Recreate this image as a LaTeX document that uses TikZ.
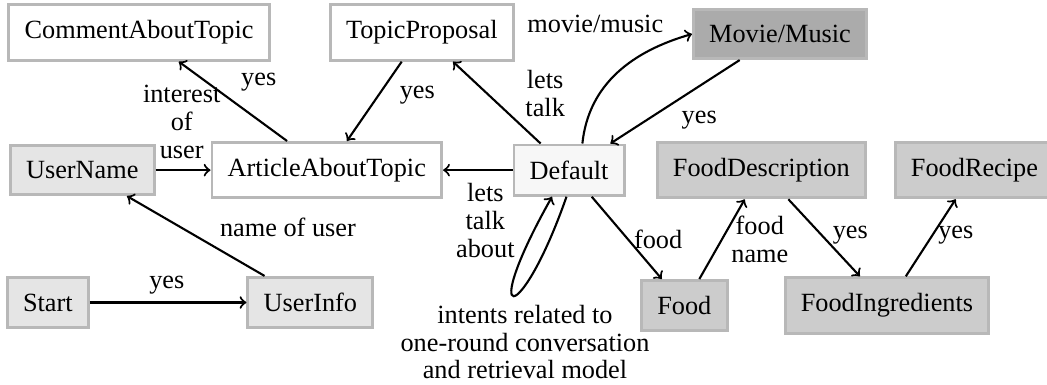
\documentclass[tikz,border=0pt]{standalone}
\usepackage{fontspec}
\setmainfont{Liberation Serif}
\usepackage{tikz}
\definecolor{edgegray}{gray}{0.72}
\definecolor{userfill}{gray}{0.9}
\definecolor{defaultfill}{gray}{0.97}
\definecolor{foodfill}{gray}{0.8}
\definecolor{moviefill}{gray}{0.67}
\tikzset{
  state/.style={draw=edgegray, line width=1.1pt, fill=white, inner sep=6pt},
  lbl/.style={align=center, font=\fontsize{10}{10.6}\selectfont},
  link/.style={->, line width=0.8pt},
}

\begin{document}
\begin{tikzpicture}
			\useasboundingbox (0,0) rectangle (14.0,5.135);
			% states
			\node[state] (comment) at (1.86,4.70) {CommentAboutTopic};
			\node[state] (topic) at (5.64,4.70) {TopicProposal};
			\node[state, fill=moviefill] (movie) at (10.43,4.68) {Movie/Music};
			\node[state, fill=userfill] (username) at (1.10,2.86) {UserName};
			\node[state] (article) at (4.37,2.86) {ArticleAboutTopic};
			\node[state, fill=defaultfill] (default) at (7.61,2.86) {Default};
			\node[state, fill=foodfill] (fooddesc) at (10.18,2.86) {FoodDescription};
			\node[state, fill=foodfill] (foodrecipe) at (13.03,2.86) {FoodRecipe};
			\node[state, fill=userfill] (start) at (0.64,1.09) {Start};
			\node[state, fill=userfill] (userinfo) at (4.15,1.09) {UserInfo};
			\node[state, fill=foodfill] (food) at (9.15,1.05) {Food};
			\node[state, fill=foodfill] (foodingr) at (11.86,1.05) {FoodIngredients};
			% transitions
			\draw[link] (start) -- (userinfo);
			\draw[link] (userinfo) -- (username);
			\draw[link] (username) -- (article);
			\draw[link] (article) -- (comment);
			\draw[link] (topic) -- (article);
			\draw[link] (default) -- (article);
			\draw[link] (default) -- (topic);
			\draw[link] (default.north east) ++(-0.58,0) coordinate (dm)
				to[out=84,in=196] (movie.west);
			\draw[link] (movie) -- (default);
			\draw[link] (default) -- (food);
			\draw[link] (food) -- (fooddesc);
			\draw[link] (fooddesc) -- (foodingr);
			\draw[link] (foodingr) -- (foodrecipe);
			\draw[link] ([xshift=-1pt]default.south)
				.. controls +(-0.62,-1.77) and +(-1.0,-1.77) .. ([xshift=-6.5pt]default.south);
			% labels
			\node[lbl] (l1) at (3.46,4.04) {yes};
			\node[lbl] (l2) at (2.43,3.50) {interest\\of\\user};
			\node[lbl] (l3) at (5.58,3.86) {yes};
			\node[lbl] (l4) at (7.29,3.89) {lets\\talk};
			\node[lbl] (l5) at (7.96,4.82) {movie/music};
			\node[lbl] (l6) at (9.35,3.53) {yes};
			\node[lbl] (l7) at (6.49,2.19) {lets\\talk\\about};
			\node[lbl] (l8) at (3.85,2.09) {name of user};
			\node[lbl] (l9) at (2.23,1.32) {yes};
			\node[lbl] (l10) at (8.80,1.93) {food};
			\node[lbl] (l11) at (10.16,1.93) {food\\name};
			\node[lbl] (l12) at (11.37,1.99) {yes};
			\node[lbl] (l13) at (12.78,1.99) {yes};
			\node[lbl] (l14) at (7.02,0.56) {intents related to\\one-round conversation\\and retrieval model};
		\end{tikzpicture}
\end{document}
